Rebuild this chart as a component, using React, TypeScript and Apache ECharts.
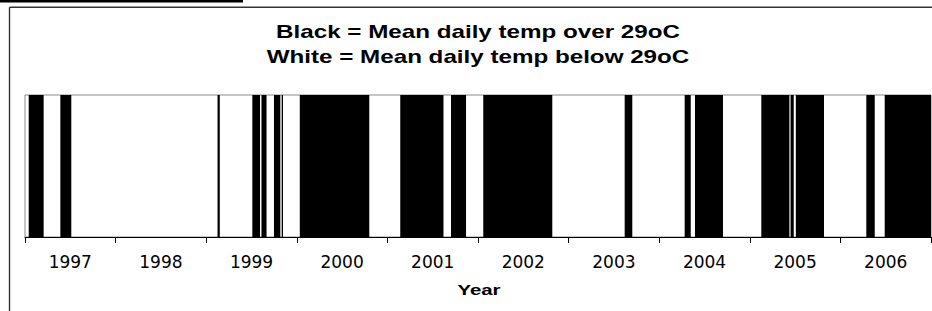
import React, { useEffect, useRef } from "react";
import * as echarts from "echarts";

// Year categories shown on the axis
const years = ["1997", "1998", "1999", "2000", "2001", "2002", "2003", "2004", "2005", "2006"];

// Periods (fractional year start, end) where mean daily temp was over 29oC (black)
const hotStart = [
  1997.041, 1997.390, 1999.125, 1999.509, 1999.610, 1999.748, 1999.833,
  2000.033, 2001.142, 2001.702, 2002.058, 2003.619, 2004.281, 2004.395,
  2005.127, 2005.450, 2005.508, 2006.286, 2006.489,
];
const hotEnd = [
  1997.206, 1997.511, 1999.150, 1999.594, 1999.666, 1999.818, 1999.848,
  2000.800, 2001.619, 2001.868, 2002.820, 2003.703, 2004.348, 2004.704,
  2005.437, 2005.485, 2005.819, 2006.379, 2007.0,
];

const titleLine1 = "Black = Mean daily temp over 29oC";
const titleLine2 = "White = Mean daily temp below 29oC";
const axisName = "Year";

export default function App() {
  const ref = useRef<HTMLDivElement>(null);
  useEffect(() => {
    if (!ref.current) return;
    const chart = echarts.init(ref.current, undefined, { renderer: "svg" });
    const data = hotStart.map((s, i) => [s, hotEnd[i]]);
    chart.setOption({
      animation: false,
      backgroundColor: "#ffffff",
      grid: {
        left: 25,
        right: 1,
        top: 95,
        bottom: 74,
        show: true,
        borderColor: "#8a8a8a",
        borderWidth: 1,
        backgroundColor: "#ffffff",
      },
      xAxis: [
        {
          type: "category",
          data: years,
          boundaryGap: true,
          axisLine: { show: true, lineStyle: { color: "#000", width: 1 } },
          axisTick: { show: true, alignWithLabel: false, length: 6, lineStyle: { color: "#000" } },
          axisLabel: {
            fontFamily: "DejaVu Sans",
            fontSize: 17,
            color: "#000",
            margin: 16,
          },
          splitLine: { show: false },
          z: 5,
        },
        {
          type: "value",
          min: 1997,
          max: 2007,
          show: false,
          splitLine: { show: false },
        },
      ],
      yAxis: {
        type: "value",
        min: 0,
        max: 1,
        show: false,
        splitLine: { show: false },
      },
      series: [
        {
          type: "custom",
          xAxisIndex: 1,
          yAxisIndex: 0,
          encode: { x: [0, 1] },
          data,
          renderItem: (params: any, api: any) => {
            const p0 = api.coord([api.value(0), 1]);
            const p1 = api.coord([api.value(1), 0]);
            return {
              type: "rect",
              shape: {
                x: p0[0],
                y: p0[1],
                width: Math.max(1, p1[0] - p0[0]),
                height: p1[1] - p0[1],
              },
              style: { fill: "#000" },
            };
          },
        },
      ],
      graphic: [
        {
          type: "line",
          shape: { x1: 0, y1: 1.3, x2: 243, y2: 1.3 },
          style: { stroke: "#000", lineWidth: 2.6 },
        },
        {
          type: "line",
          shape: { x1: 9.5, y1: 7.3, x2: 932, y2: 7.3 },
          style: { stroke: "#333", lineWidth: 1.4 },
        },
        {
          type: "line",
          shape: { x1: 9.5, y1: 7.3, x2: 9.5, y2: 311 },
          style: { stroke: "#333", lineWidth: 1.4 },
        },
        {
          type: "text",
          x: 478,
          y: 32.5,
          scaleX: 1.344,
          style: {
            text: titleLine1,
            font: 'bold 18px "Liberation Sans", Arial, sans-serif',
            fill: "#000",
            textAlign: "center",
            textVerticalAlign: "middle",
          },
        },
        {
          type: "text",
          x: 478,
          y: 57,
          scaleX: 1.344,
          style: {
            text: titleLine2,
            font: 'bold 18px "Liberation Sans", Arial, sans-serif',
            fill: "#000",
            textAlign: "center",
            textVerticalAlign: "middle",
          },
        },
        {
          type: "text",
          x: 479,
          y: 289.5,
          scaleX: 1.36,
          style: {
            text: axisName,
            font: 'bold 15px "Liberation Sans", Arial, sans-serif',
            fill: "#000",
            textAlign: "center",
            textVerticalAlign: "middle",
          },
        },
      ],
    });
    return () => chart.dispose();
  }, []);
  return (
    <div
      ref={ref}
      style={{ position: "fixed", left: 0, top: 0, width: 932, height: 311, background: "#fff" }}
    />
  );
}
